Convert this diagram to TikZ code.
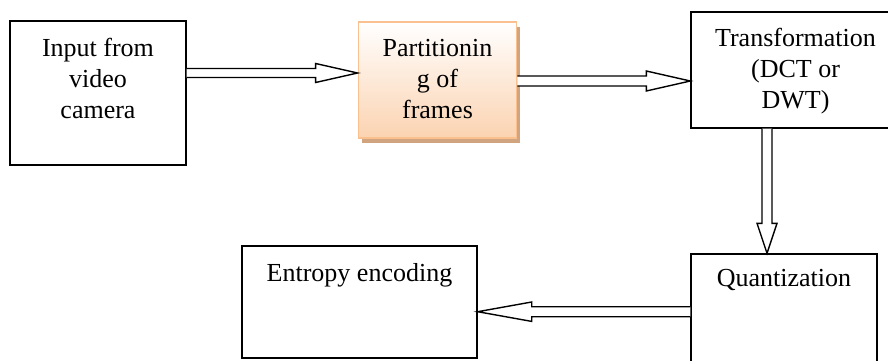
\documentclass[tikz,border=0pt]{standalone}
\usepackage{fontspec}
\setmainfont{Liberation Serif}
\usepackage{tikz}
\usetikzlibrary{positioning,shadows}
\definecolor{peach}{HTML}{FBD3B1}
\definecolor{peachline}{HTML}{FAC08F}
\definecolor{shadowtan}{HTML}{CFA47F}

\tikzset{
  box/.style={draw, line width=1.4pt, rectangle, inner sep=0pt},
  boxtext/.style={align=center, inner sep=0pt, font=\fontsize{26}{31}\selectfont},
  blockarrow/.style={draw, line width=1.4pt, fill=white, line join=miter}
}

\begin{document}
\begin{tikzpicture}[x=1pt,y=1pt]
\useasboundingbox (0,0) rectangle (888,360);
\clip (0,0) rectangle (888,360);
% boxes
\node[box, minimum width=176pt, minimum height=144pt] (in1) at (98,267) {};
\node[box, draw=peachline, line width=1.8pt, top color=white, bottom color=peach,
  drop shadow={shadow xshift=3pt, shadow yshift=-5pt, fill=shadowtan, opacity=1},
  minimum width=158pt, minimum height=116pt] (part) at (437.5,280) {};
\node[box, minimum width=209pt, minimum height=116pt] (trans) at (795.5,290) {};
\node[box, minimum width=186pt, minimum height=126pt] (quant) at (784,43) {};
\node[box, minimum width=235pt, minimum height=112pt] (entropy) at (359.5,58) {};
% texts
\node[boxtext, below=18pt of in1.north] (in1txt) {Input from\\video\\camera};
\node[boxtext, below=18pt of part.north] (parttxt) {Partitionin\\g of\\frames};
\node[boxtext, below=17pt of trans.north] (transtxt) {Transformation\\(DCT or\\DWT)};
\node[boxtext, below=16pt of quant.north] (quanttxt) {Quantization};
\node[boxtext, below=18pt of entropy.north] (entropytxt) {Entropy encoding};
% arrows
\coordinate (a1) at ([yshift=20pt]in1.east);
\coordinate (t1) at ([yshift=7pt]part.west);
\draw[blockarrow] ([yshift=4.5pt]a1) -- ([xshift=-42pt,yshift=4.5pt]t1) -- ([xshift=-42pt,yshift=9.5pt]t1)
  -- (t1) -- ([xshift=-42pt,yshift=-9.5pt]t1) -- ([xshift=-42pt,yshift=-4.5pt]t1) -- ([yshift=-4.5pt]a1);
\coordinate (a2) at ([yshift=-1pt]part.east);
\coordinate (t2) at ([yshift=-11pt]trans.west);
\draw[blockarrow] ([yshift=5pt]a2) -- ([xshift=-44pt,yshift=5pt]t2) -- ([xshift=-44pt,yshift=10pt]t2)
  -- (t2) -- ([xshift=-44pt,yshift=-10pt]t2) -- ([xshift=-44pt,yshift=-5pt]t2) -- ([yshift=-5pt]a2);
\coordinate (a3) at ([xshift=-28.5pt]trans.south);
\coordinate (t3) at ([xshift=-17pt]quant.north);
\draw[blockarrow] ([xshift=-5pt]a3) -- ([xshift=-5pt,yshift=30pt]t3) -- ([xshift=-10pt,yshift=30pt]t3)
  -- (t3) -- ([xshift=10pt,yshift=30pt]t3) -- ([xshift=5pt,yshift=30pt]t3) -- ([xshift=5pt]a3);
\coordinate (a4) at ([yshift=5.3pt]quant.west);
\coordinate (t4) at ([yshift=-9.7pt]entropy.east);
\draw[blockarrow] ([yshift=5pt]a4) -- ([xshift=54pt,yshift=5pt]t4) -- ([xshift=54pt,yshift=9.7pt]t4)
  -- (t4) -- ([xshift=54pt,yshift=-9.7pt]t4) -- ([xshift=54pt,yshift=-5pt]t4) -- ([yshift=-5pt]a4);
\end{tikzpicture}
\end{document}
